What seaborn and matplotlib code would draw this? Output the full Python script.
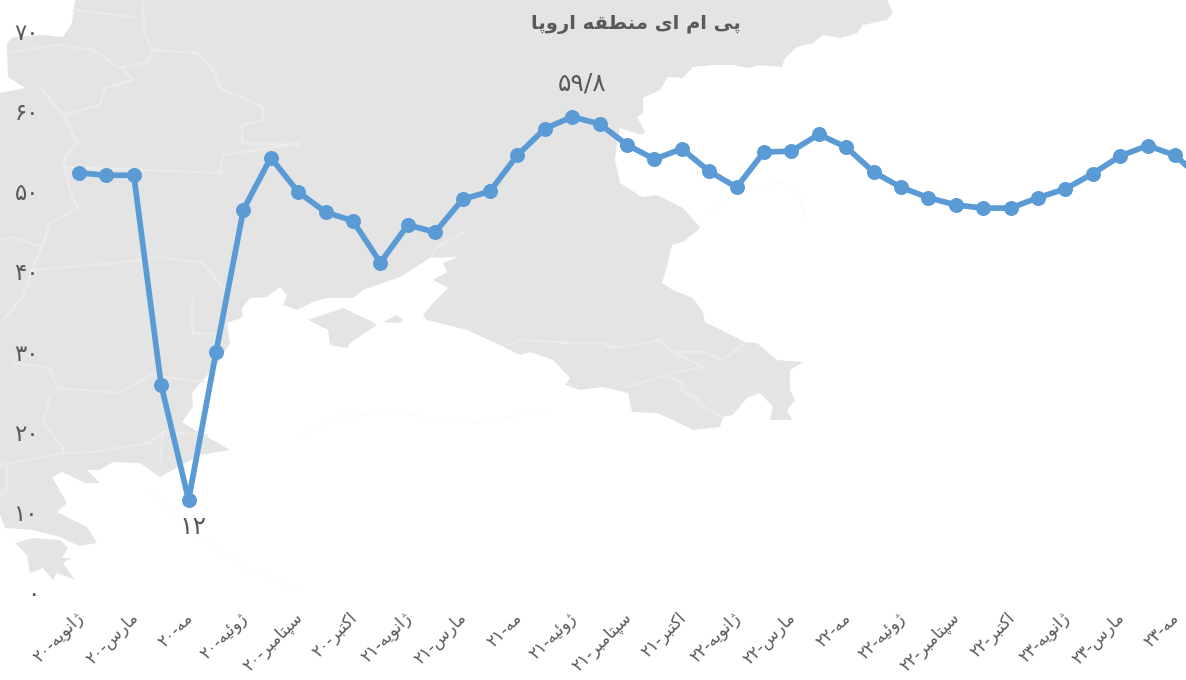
import matplotlib
matplotlib.use('Agg')
import matplotlib.pyplot as plt
from matplotlib.transforms import ScaledTranslation
import pandas as pd
import seaborn as sns

# Values
pmi = [52.3, 52.0, 52.0, 25.8, 11.5, 29.9, 47.7, 54.2, 49.9, 47.4, 46.3, 41.1, 45.8, 44.9,
       49.0, 50.0, 54.5, 57.8, 59.3, 58.4, 55.8, 54.0, 55.3, 52.5, 50.5, 54.9, 55.0, 57.1,
       55.5, 52.4, 50.5, 49.2, 48.3, 47.9, 47.9, 49.2, 50.3, 52.2, 54.4, 55.7, 54.5, 51.4]
months = ['ژانویه', 'مارس', 'مه', 'ژوئیه', 'سپتامبر', 'اکتبر']
years = ['۲۰', '۲۱', '۲۲', '۲۳']
ytick_vals = [0, 10, 20, 30, 40, 50, 60, 70]
ytick_labels = ['۰', '۱۰', '۲۰', '۳۰', '۴۰', '۵۰', '۶۰', '۷۰']
title = 'پی ام ای منطقه اروپا'

# Background map outline, traced in image pixels
land = [(75, 0), (72, 23), (63, 37), (43, 35), (13, 37), (7, 43), (8, 77), (25, 88), (0, 93),
        (0, 515), (5, 528), (33, 530), (60, 537), (68, 541),
        (80, 546), (97, 543), (87, 527), (57, 512), (67, 503), (52, 477), (62, 472), (85, 483),
        (100, 483), (87, 470), (100, 470), (113, 462), (140, 463), (160, 477), (200, 455),
        (230, 450), (200, 433), (182, 422), (193, 407), (192, 393), (220, 360), (230, 343),
        (227, 323), (243, 317), (242, 308), (250, 298), (267, 297), (280, 287), (287, 295),
        (283, 305), (297, 310), (313, 302), (327, 298), (353, 298), (363, 290), (400, 277),
        (430, 258), (458, 257), (443, 263), (447, 272), (433, 280), (448, 288), (433, 303),
        (423, 315), (427, 320), (467, 330), (500, 345), (520, 355), (530, 352), (553, 360),
        (570, 378), (565, 385), (580, 390), (603, 387), (628, 393), (632, 412), (657, 413),
        (673, 420), (693, 430), (720, 427), (723, 417), (733, 415), (747, 398), (760, 393),
        (773, 407), (770, 420), (792, 420), (787, 410), (795, 400), (790, 390), (790, 370),
        (803, 362), (777, 360), (757, 343), (745, 342), (705, 322), (703, 312), (693, 298),
        (673, 290), (662, 283), (668, 263), (672, 245), (683, 242), (698, 230), (700, 227),
        (683, 208), (657, 195), (642, 197), (620, 183), (615, 160), (617, 143), (620, 128),
        (642, 135), (645, 132), (637, 117), (643, 113), (643, 98), (660, 90), (668, 77),
        (683, 78), (693, 67), (713, 65), (733, 65), (747, 68), (760, 65), (782, 67), (785, 58),
        (797, 47), (813, 43), (823, 35), (840, 38), (857, 33), (863, 25), (887, 20), (893, 13),
        (887, 0)]
crimea = [(308, 320), (343, 308), (373, 322), (377, 325), (350, 343), (347, 348), (330, 345), (328, 330)]
kerch = [(383, 322), (397, 315), (403, 320), (400, 323)]
greece = [(15, 543), (33, 538), (60, 540), (68, 548), (62, 558), (72, 558), (63, 563), (75, 580),
          (57, 573), (53, 580), (43, 568), (30, 573), (27, 555)]
borders = [
    [(7, 53), (57, 45), (93, 50), (120, 68), (147, 62), (152, 50), (197, 53), (213, 70), (220, 88),
     (263, 107), (263, 120), (242, 125), (242, 143), (300, 145)],
    [(142, 0), (145, 33), (152, 50)],
    [(73, 10), (133, 17)],
    [(122, 68), (133, 80), (105, 88), (100, 105), (63, 115), (40, 87)],
    [(63, 115), (77, 143), (63, 160), (70, 190), (78, 208), (50, 223), (42, 247), (13, 237), (0, 240)],
    [(42, 247), (33, 267), (23, 297), (3, 320)],
    [(33, 270), (117, 263), (160, 257), (203, 263), (227, 293)],
    [(63, 167), (147, 170), (220, 173), (223, 155), (300, 143)],
    [(13, 363), (50, 368), (57, 388), (120, 393), (150, 375), (203, 382)],
    [(192, 300), (192, 333), (213, 333)],
    [(50, 398), (43, 423), (63, 447), (63, 453), (0, 465)],
    [(63, 453), (93, 452), (150, 443), (163, 432), (207, 435)],
    [(7, 467), (7, 490), (0, 497)],
    [(163, 433), (160, 460)],
    [(560, 343), (603, 343), (613, 348), (647, 343), (660, 340), (673, 352), (703, 352), (723, 360), (743, 345)],
    [(673, 352), (685, 358), (703, 367), (673, 373), (627, 387)],
    [(670, 377), (683, 383), (680, 390), (698, 398), (697, 403), (723, 417)],
    [(507, 345), (523, 340), (570, 343)],
    [(430, 257), (437, 247), (463, 233)],
]
faint_borders = [
    [(297, 440), (333, 417), (397, 413), (477, 423), (547, 410)],
    [(705, 215), (725, 200), (780, 182), (800, 195), (805, 220)],
    [(150, 490), (190, 530), (250, 570), (300, 590)],
]

# joining forms: isolated, final, initial, medial
forms = {
    'ا': 'ﺍﺎ', 'ر': 'ﺭﺮ', 'ژ': 'ﮊﮋ', 'و': 'ﻭﻮ',
    'ن': 'ﻥﻦﻧﻨ', 'ی': 'ﯼﯽﯾﯿ', 'ه': 'ﻩﻪﻫﻬ', 'م': 'ﻡﻢﻣﻤ',
    'س': 'ﺱﺲﺳﺴ', 'ئ': 'ﺉﺊﺋﺌ', 'پ': 'ﭖﭗﭘﭙ', 'ت': 'ﺕﺖﺗﺘ',
    'ب': 'ﺏﺐﺑﺒ', 'ک': 'ﮎﮏﮐﮑ', 'ط': 'ﻁﻂﻃﻄ', 'ق': 'ﻕﻖﻗﻘ',
}


def shape(word):
    # matplotlib does no Arabic shaping, so pick the joined glyphs and reverse
    out = []
    for i, ch in enumerate(word):
        if ch not in forms:
            out.append(ch)
            continue
        prev_joins = i > 0 and word[i - 1] in forms and len(forms[word[i - 1]]) == 4
        next_joins = i < len(word) - 1 and word[i + 1] in forms
        f = forms[ch]
        if len(f) == 2:
            out.append(f[1] if prev_joins else f[0])
        elif prev_joins and next_joins:
            out.append(f[3])
        elif prev_joins:
            out.append(f[1])
        elif next_joins:
            out.append(f[2])
        else:
            out.append(f[0])
    return ''.join(reversed(out))


xtick_labels = [y + '-' + shape(m) for y in years for m in months][:21]
df = pd.DataFrame({'i': range(len(pmi)), 'pmi': pmi})

sns.set_theme(style='white')
plt.rcParams['font.family'] = ['DejaVu Sans']
text_color = '#595959'
blue = '#5B9BD5'

W, H = 1186, 680
fig = plt.figure(figsize=(W / 100, H / 100), dpi=100)

# map layer in pixel coordinates
ax_map = fig.add_axes([0, 0, 1, 1])
ax_map.set_xlim(0, W)
ax_map.set_ylim(H, 0)
ax_map.axis('off')
for poly in [land, crimea, kerch, greece]:
    xs, ys = zip(*poly)
    ax_map.fill(xs, ys, color='#E4E4E4', lw=0)
for b in borders:
    xs, ys = zip(*b)
    ax_map.plot(xs, ys, color='#EBEBEB', lw=1.8, solid_joinstyle='round')
for b in faint_borders:
    xs, ys = zip(*b)
    ax_map.plot(xs, ys, color='#FCFCFC', lw=1.2)

# chart layer: 0 at y=592, 70 at y=31, first point at x=79, step 27.4
left, top, bottom = 50, 31, 592
ax = fig.add_axes([left / W, (H - bottom) / H, (W - left) / W, (bottom - top) / H])
ax.patch.set_alpha(0)
sns.lineplot(data=df, x='i', y='pmi', ax=ax, color=blue, lw=4.1, marker='o', markersize=10.8,
             markeredgewidth=0, errorbar=None)
ax.set_xlim((left - 79) / 27.4, (W - 79) / 27.4)
ax.set_ylim(0, 70)
ax.set_xlabel('')
ax.set_ylabel('')
sns.despine(ax=ax, left=True, bottom=True)

ax.set_yticks(ytick_vals)
ax.set_yticklabels(ytick_labels, fontsize=16.5, color=text_color)
ax.set_xticks(range(0, 2 * len(xtick_labels), 2))
ax.set_xticklabels(xtick_labels, fontsize=12, color=text_color, rotation=45, ha='right',
                   va='top', rotation_mode='anchor')
ax.tick_params(axis='y', length=0, pad=8)
ax.tick_params(axis='x', length=0, pad=12)
shift = ScaledTranslation(-5 / 100, 0, fig.dpi_scale_trans)
for lab in ax.get_xticklabels():
    lab.set_transform(lab.get_transform() + shift)

ax.annotate('۱۲', (4, pmi[4]), xytext=(4, -27), textcoords='offset pixels', ha='center',
            va='center', fontsize=18, color=text_color)
ax.annotate('۵۹/۸', (18, pmi[18]), xytext=(10, 33), textcoords='offset pixels', ha='center',
            va='center', fontsize=18, color=text_color)

fig.text(636 / W, 1 - 25 / H, ' '.join(shape(w) for w in reversed(title.split())), ha='center',
         va='center', fontsize=14, fontweight='bold', color=text_color)

fig.savefig('out.png', dpi=100)
